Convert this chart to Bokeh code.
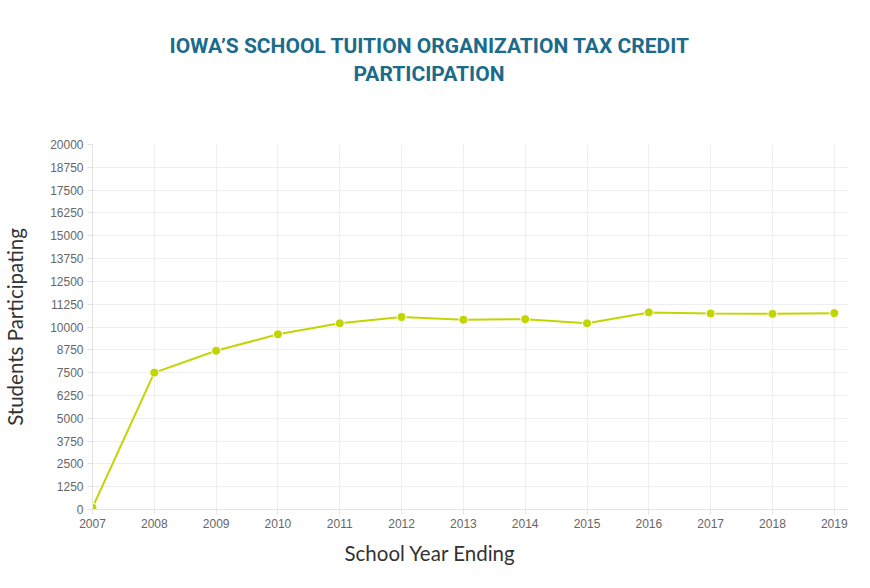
from bokeh.plotting import figure
from bokeh.models import FixedTicker, Range1d, Title
from bokeh.embed import file_html
from bokeh.resources import INLINE

years = [2007, 2008, 2009, 2010, 2011, 2012, 2013, 2014, 2015, 2016, 2017, 2018, 2019]
students = [100, 7500, 8700, 9600, 10200, 10550, 10400, 10430, 10200, 10800, 10740, 10720, 10760]
y_ticks = [0, 1250, 2500, 3750, 5000, 6250, 7500, 8750, 10000, 11250, 12500, 13750,
           15000, 16250, 17500, 18750, 20000]

LINE = "#c3d500"
TITLE_COLOR = "#1b6b8b"

p = figure(width=870, height=588, output_backend="svg", toolbar_location=None,
           x_range=Range1d(2007, 2019.23), y_range=Range1d(0, 20000),
           min_border_left=92, min_border_right=22, min_border_top=144, min_border_bottom=79,
           title=None)
p.outline_line_color = None
p.background_fill_color = "white"

p.line(years, students, line_color=LINE, line_width=2)
p.scatter(years, students, size=9, fill_color=LINE, line_color="white", line_width=1)

spacer = Title(text=" ", text_font_size="1px")
spacer.standoff = 56
t2 = Title(text="PARTICIPATION", align="left", offset=261, text_font="Roboto",
           text_font_style="bold", text_font_size="21px", text_color=TITLE_COLOR)
t2.standoff = 0
t1 = Title(text="IOWA\u2019S SCHOOL TUITION ORGANIZATION TAX CREDIT", align="left", offset=77,
           text_font="Roboto", text_font_style="bold", text_font_size="21px",
           text_color=TITLE_COLOR)
t1.standoff = 4
p.add_layout(spacer, "above")
p.add_layout(t2, "above")
p.add_layout(t1, "above")

p.xaxis.ticker = FixedTicker(ticks=years)
p.yaxis.ticker = FixedTicker(ticks=y_ticks)
for ax in (p.xaxis, p.yaxis):
    ax.axis_line_color = "#e2e2e2"
    ax.major_tick_line_color = "#e2e2e2"
    ax.major_tick_out = 5
    ax.major_tick_in = 0
    ax.minor_tick_line_color = None
    ax.major_label_text_font = "Liberation Sans"
    ax.major_label_text_font_size = "12px"
    ax.major_label_text_color = "#666666"
    ax.major_label_standoff = 4
    ax.axis_label_text_font = "Lato"
    ax.axis_label_text_font_style = "normal"
    ax.axis_label_text_font_size = "20.5px"
    ax.axis_label_text_color = "#333333"

p.yaxis.axis_label = "Students Participating"
p.yaxis.axis_label_standoff = 20
p.xaxis.major_label_standoff = 4

xlabel = Title(text="School Year Ending", align="left", offset=252, text_font="Lato",
               text_font_style="normal", text_font_size="20.5px", text_color="#333333")
xlabel.standoff = 17
p.add_layout(xlabel, "below")

p.xgrid.grid_line_color = "#efefef"
p.ygrid.grid_line_color = "#efefef"

open("out.html", "w").write(file_html(p, INLINE))
